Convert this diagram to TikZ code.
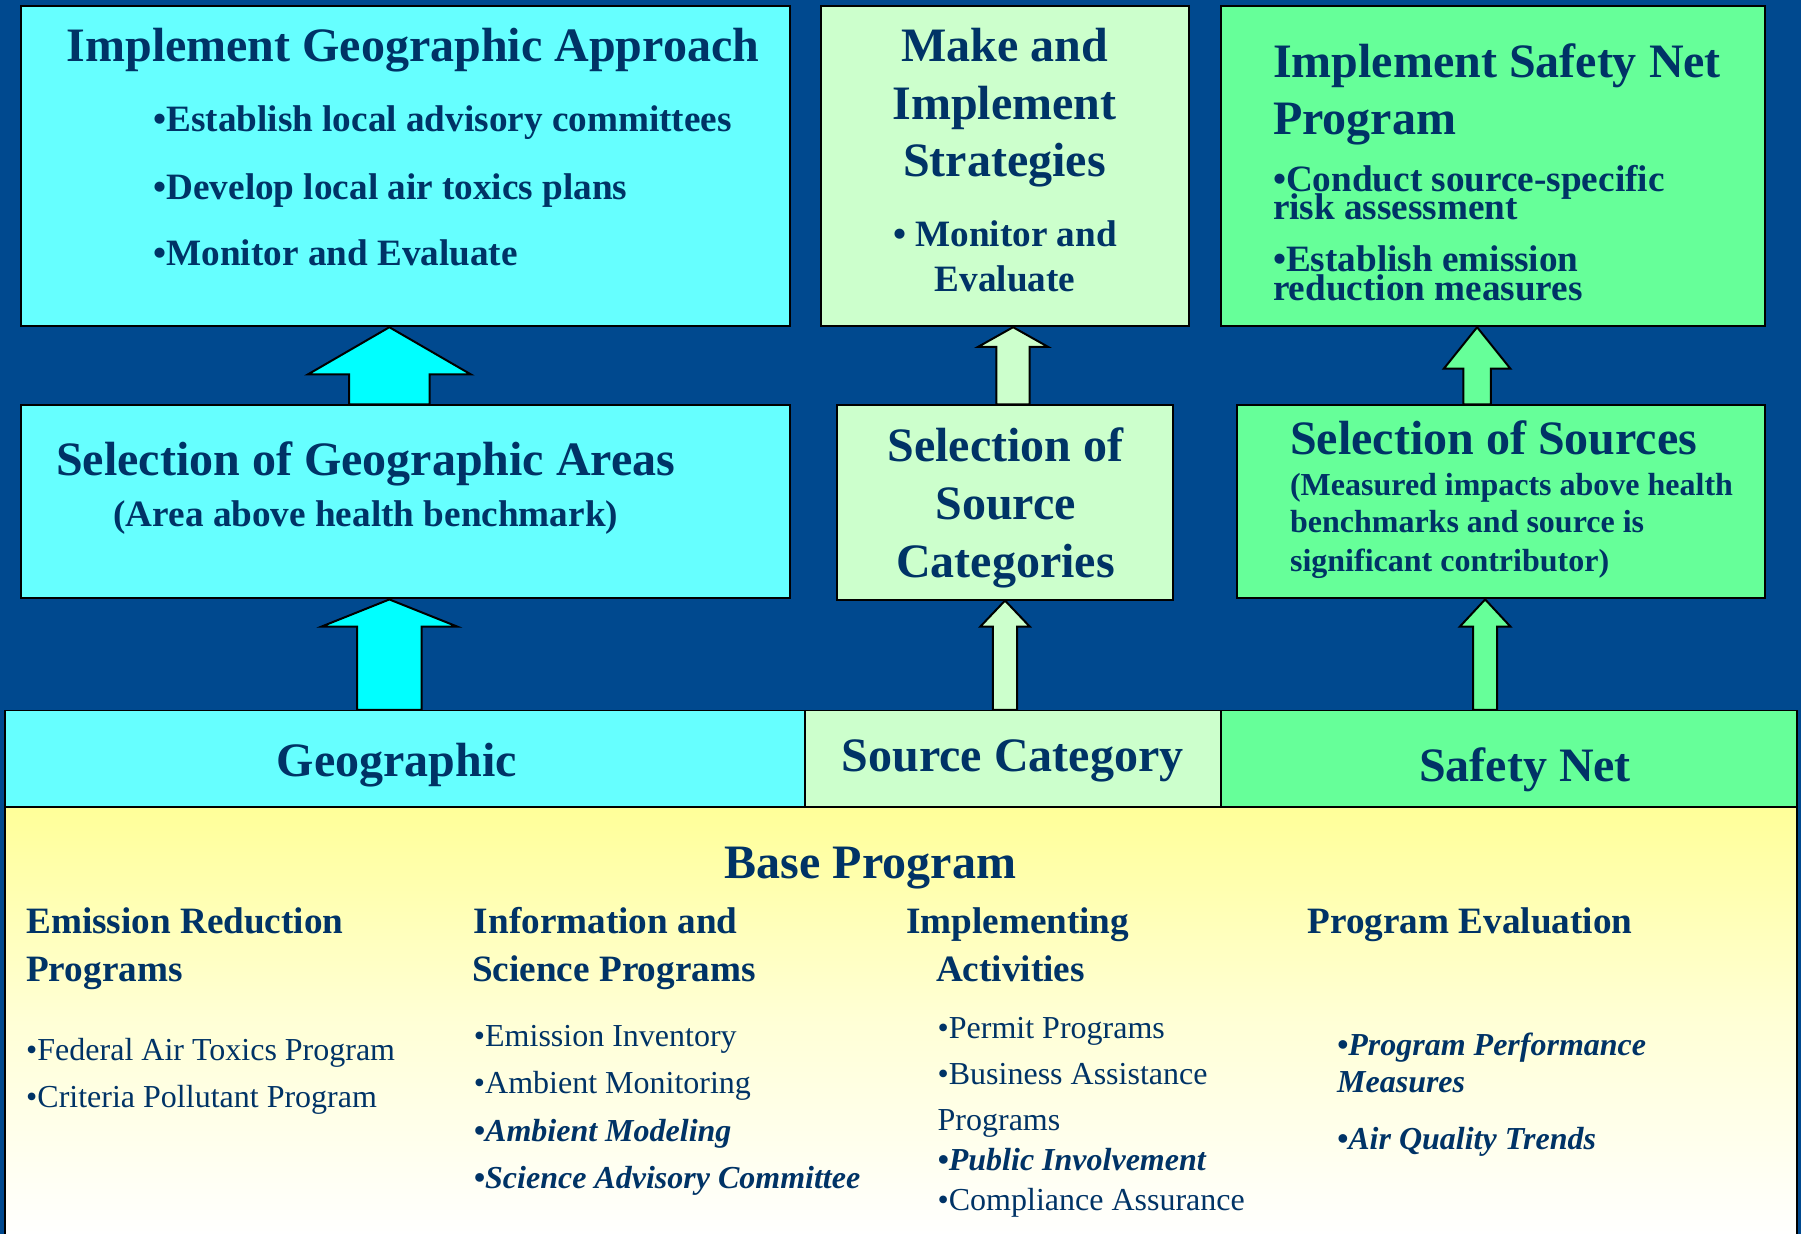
\documentclass[tikz,border=0pt]{standalone}
\usepackage{fontspec}
\setmainfont{Liberation Serif}
\usetikzlibrary{fit,calc}
\definecolor{bgblue}{RGB}{0,73,143}
\definecolor{cyanbox}{RGB}{102,255,255}
\definecolor{cyanarr}{RGB}{0,255,255}
\definecolor{lgreen}{RGB}{204,255,204}
\definecolor{mgreen}{RGB}{102,255,153}
\definecolor{navy}{RGB}{0,51,102}
\definecolor{paleyellow}{RGB}{255,255,153}
\newcommand\blockarrow[7]{%
  \draw[blockarr,fill=#1] (#4-#5,0 |- #2.north) -- (#4-#5,#7) -- (#4-#6,#7) -- (#4,0 |- #3.south) -- (#4+#6,#7) -- (#4+#5,#7) -- (#4+#5,0 |- #2.north) -- cycle;}
\begin{document}
\begin{tikzpicture}[x=0.5743pt,y=-0.5743pt,
  box/.style={draw=black, line width=1pt, inner sep=0pt},
  barbox/.style={draw=black, line width=0.8pt, inner sep=0pt},
  blockarr/.style={draw=black, line width=1pt, line join=miter},
  big/.style={font=\fontsize{24}{28}\selectfont\bfseries, text=navy, inner sep=0pt},
  med/.style={font=\fontsize{18.6}{22}\selectfont\bfseries, text=navy, inner sep=0pt},
  small/.style={font=\fontsize{16}{19}\selectfont, text=navy, inner sep=0pt},
  smallbi/.style={font=\fontsize{16}{19}\selectfont\bfseries\itshape, text=navy, inner sep=0pt},
  lft/.style={anchor=base west},
  ctr/.style={anchor=base}]
\useasboundingbox (0,0) rectangle (1568,1074);
\fill[bgblue] (0,0) rectangle (1568,1074);

% top row
\node[box, fill=cyanbox, fit={(18,5) (688,284)}] (b1) {};
\node[box, fill=lgreen, fit={(715,5) (1035,284)}] (b2) {};
\node[box, fill=mgreen, fit={(1063,5) (1537,284)}] (b3) {};
% middle row
\node[box, fill=cyanbox, fit={(18,353) (688,521)}] (b4) {};
\node[box, fill=lgreen, fit={(729,353) (1021,522)}] (b5) {};
\node[box, fill=mgreen, fit={(1077,353) (1537,521)}] (b6) {};
% bar
\node[barbox, fill=cyanbox, fit={(4.5,618.7) (701,703)}] (geo) {};
\node[barbox, fill=lgreen, fit={(701,618.7) (1063,703)}] (src) {};
\node[barbox, fill=mgreen, fit={(1063,618.7) (1564.5,703)}] (safe) {};
% base program
\shade[top color=paleyellow, bottom color=white, middle color=paleyellow!40!white, draw=black, line width=1pt] (4.5,703) rectangle (1564.5,1078);
\coordinate (basetop) at (784,703);

% arrows
\blockarrow{cyanarr}{b4}{b1}{339}{35}{71}{326}
\blockarrow{lgreen}{b5}{b2}{882}{14.5}{30.5}{302}
\blockarrow{mgreen}{b6}{b3}{1286}{12}{29}{321}
\blockarrow{cyanarr}{geo}{b4}{339}{28}{59}{545.5}
\blockarrow{lgreen}{src}{b5}{875}{10.5}{21.5}{545.5}
\blockarrow{mgreen}{safe}{b6}{1293}{10.5}{22}{545.5}

% box 1 text
\node[big, lft] (t1a) at (57.7,53.7) {Implement Geographic Approach};
\node[med, lft] (t1b) at (133.3,114.6) {•Establish local advisory committees};
\node[med, lft] (t1c) at (133.3,173.3) {•Develop local air toxics plans};
\node[med, lft] (t1d) at (133.3,231.3) {•Monitor and Evaluate};
% box 2 text
\node[big, ctr] (t2a) at (874.5,53.7) {Make and};
\node[big, ctr] (t2b) at (874.5,103.9) {Implement};
\node[big, ctr] (t2c) at (874.5,153.8) {Strategies};
\node[med, ctr] (t2d) at (875,214.8) {• Monitor and};
\node[med, ctr] (t2e) at (875,254) {Evaluate};
% box 3 text
\node[big, lft] (t3a) at (1108,67.3) {Implement Safety Net};
\node[big, lft] (t3b) at (1108,117.5) {Program};
\node[med, lft] (t3c) at (1108,166.9) {•Conduct source-specific};
\node[med, lft] (t3d) at (1108,191.5) {risk assessment};
\node[med, lft] (t3e) at (1108,236.5) {•Establish emission};
\node[med, lft] (t3f) at (1108,261.2) {reduction measures};
% box 4 text
\node[big, lft] (t4a) at (48.5,414.4) {Selection of Geographic Areas};
\node[med, lft] (t4b) at (98.5,458) {(Area above health benchmark)};
% box 5 text
\node[big, ctr] (t5a) at (875.5,402) {Selection of};
\node[big, ctr] (t5b) at (875.5,452.7) {Source};
\node[big, ctr] (t5c) at (875.5,502.6) {Categories};
% box 6 text
\node[big, lft] (t6a) at (1122.8,396.1) {Selection of Sources};
\node[font=\fontsize{16}{19}\selectfont\bfseries, text=navy, inner sep=0pt, lft] (t6b) at (1122.8,431) {(Measured impacts above health};
\node[font=\fontsize{16}{19}\selectfont\bfseries, text=navy, inner sep=0pt, lft] (t6c) at (1122.8,463.8) {benchmarks and source is};
\node[font=\fontsize{16}{19}\selectfont\bfseries, text=navy, inner sep=0pt, lft] (t6d) at (1122.8,497.7) {significant contributor)};
% bar text
\node[big, ctr] (tg) at (345.4,676.2) {Geographic};
\node[big, ctr] (ts) at (881.5,671.8) {Source Category};
\node[big, ctr] (tn) at (1327.7,680.5) {Safety Net};
% base program text
\node[big, lft] (tb) at (630.8,764.7) {Base Program};
\node[med, lft] (h1a) at (22.5,812.6) {Emission Reduction};
\node[med, lft] (h1b) at (22.5,854.7) {Programs};
\node[med, lft] (h2a) at (412.3,812.6) {Information and};
\node[med, lft] (h2b) at (410.8,854.7) {Science Programs};
\node[med, lft] (h3a) at (788.5,812.6) {Implementing};
\node[med, lft] (h3b) at (814.6,854.7) {Activities};
\node[med, lft] (h4a) at (1138,812.6) {Program Evaluation};
\node[small, lft] (i1a) at (22.5,923.7) {•Federal Air Toxics Program};
\node[small, lft] (i1b) at (22.5,964.1) {•Criteria Pollutant Program};
\node[small, lft] (i2a) at (412.3,910.7) {•Emission Inventory};
\node[small, lft] (i2b) at (412.3,951.9) {•Ambient Monitoring};
\node[smallbi, lft] (i2c) at (412.3,994) {•Ambient Modeling};
\node[smallbi, lft] (i2d) at (412.3,1034.6) {•Science Advisory Committee};
\node[small, lft] (i3a) at (816,904) {•Permit Programs};
\node[small, lft] (i3b) at (816,944.6) {•Business Assistance};
\node[small, lft] (i3c) at (816,983.8) {Programs};
\node[smallbi, lft] (i3d) at (816,1019.2) {•Public Involvement};
\node[small, lft] (i3e) at (816,1053.5) {•Compliance Assurance};
\node[smallbi, lft] (i4a) at (1163.8,918.5) {•Program Performance};
\node[smallbi, lft] (i4b) at (1163.8,951.3) {Measures};
\node[smallbi, lft] (i4c) at (1163.8,1001.2) {•Air Quality Trends};
\end{tikzpicture}
\end{document}
